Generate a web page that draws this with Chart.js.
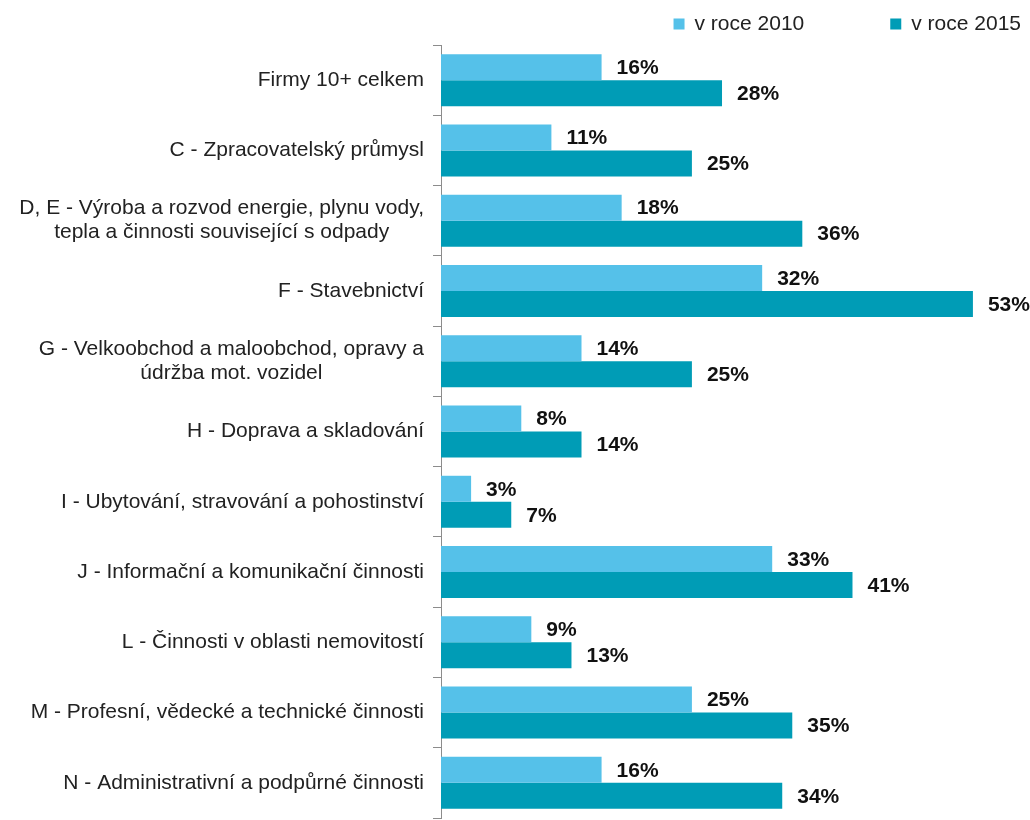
<!DOCTYPE html>
<html>
<head>
<meta charset="utf-8">
<script src="https://cdn.jsdelivr.net/npm/chart.js@4"></script>
<style>
    html, body { margin: 0; padding: 0; background: #fff; }
    #wrap { width: 1030px; height: 820px; }
</style>
</head>
<body>
<div id="wrap"><canvas id="chart1" width="1030" height="820"></canvas></div>
<script>
var categories = [
    ["Firmy 10+ celkem"],
    ["C - Zpracovatelský průmysl"],
    ["D, E - Výroba a rozvod energie, plynu vody,", "tepla a činnosti související s odpady"],
    ["F - Stavebnictví"],
    ["G - Velkoobchod a maloobchod, opravy a", "údržba mot. vozidel"],
    ["H - Doprava a skladování"],
    ["I - Ubytování, stravování a pohostinství"],
    ["J - Informační a komunikační činnosti"],
    ["L - Činnosti v oblasti nemovitostí"],
    ["M - Profesní, vědecké a technické činnosti"],
    ["N - Administrativní a podpůrné činnosti"]
];
var values2010 = [16, 11, 18, 32, 14, 8, 3, 33, 9, 25, 16];
var values2015 = [28, 25, 36, 53, 25, 14, 7, 41, 13, 35, 34];
var seriesNames = ["v roce 2010", "v roce 2015"];

var FONT = "'Liberation Sans', Arial, sans-serif";

// category labels: block right aligned, lines centered inside the block
var categoryLabels = {
    id: 'categoryLabels',
    afterDraw: function (chart) {
        var ctx = chart.ctx;
        var yScale = chart.scales.y;
        var right = chart.chartArea.left - 17;
        var lineHeight = 24;
        ctx.save();
        ctx.font = "21px " + FONT;
        ctx.fillStyle = "#222";
        ctx.textAlign = "center";
        ctx.textBaseline = "middle";
        categories.forEach(function (lines, i) {
            var y = yScale.getPixelForTick(i);
            var widest = 0;
            lines.forEach(function (l) {
                widest = Math.max(widest, ctx.measureText(l).width);
            });
            var cx = right - widest / 2;
            var y0 = y - (lines.length - 1) * lineHeight / 2;
            lines.forEach(function (l, k) {
                ctx.fillText(l, cx, y0 + k * lineHeight);
            });
        });
        ctx.restore();
    }
};

var valueLabels = {
    id: 'valueLabels',
    afterDatasetsDraw: function (chart) {
        var ctx = chart.ctx;
        ctx.save();
        ctx.font = "bold 21px " + FONT;
        ctx.fillStyle = "#111";
        ctx.textAlign = "left";
        ctx.textBaseline = "middle";
        chart.data.datasets.forEach(function (ds, d) {
            chart.getDatasetMeta(d).data.forEach(function (bar, i) {
                ctx.fillText(ds.data[i] + '%', bar.x + 15, bar.y + 1);
            });
        });
        ctx.restore();
    }
};

var topLegend = {
    id: 'topLegend',
    afterDraw: function (chart) {
        var ctx = chart.ctx;
        var box = 11, textGap = 10, itemGap = 86;
        var y = 24;
        ctx.save();
        ctx.font = "21px " + FONT;
        ctx.textBaseline = "middle";
        ctx.textAlign = "left";
        var widths = chart.data.datasets.map(function (ds) {
            return box + textGap + ctx.measureText(ds.label).width;
        });
        var total = widths.reduce(function (a, b) { return a + b; }, 0) + itemGap * (widths.length - 1);
        var x = 1021 - total;
        chart.data.datasets.forEach(function (ds, i) {
            ctx.fillStyle = ds.backgroundColor;
            ctx.fillRect(x, y - box / 2, box, box);
            ctx.fillStyle = "#222";
            ctx.fillText(ds.label, x + box + textGap, y);
            x += widths[i] + itemGap;
        });
        ctx.restore();
    }
};

var ctx = document.getElementById("chart1").getContext("2d");
var myChart = new Chart(ctx, {
    type: 'bar',
    data: {
        labels: categories.map(function (c) { return c.join(' '); }),
        datasets: [
            {
                label: seriesNames[0],
                data: values2010,
                backgroundColor: "#55c1e9",
                categoryPercentage: 0.74,
                barPercentage: 1.0
            },
            {
                label: seriesNames[1],
                data: values2015,
                backgroundColor: "#009cb6",
                categoryPercentage: 0.74,
                barPercentage: 1.0
            }
        ]
    },
    options: {
        indexAxis: 'y',
        responsive: false,
        animation: false,
        devicePixelRatio: 1,
        layout: {
            padding: { top: 45, bottom: 2, left: 0, right: 37 }
        },
        plugins: {
            legend: { display: false },
            tooltip: { enabled: false }
        },
        scales: {
            x: {
                display: false,
                min: 0,
                max: 55
            },
            y: {
                afterFit: function (scale) {
                    scale.width = 441;
                },
                ticks: { display: false },
                grid: {
                    display: true,
                    drawOnChartArea: false,
                    drawTicks: true,
                    tickLength: 8,
                    color: "#8c8c8c",
                    offset: true
                },
                border: { display: true, color: "#8c8c8c", width: 1 }
            }
        }
    },
    plugins: [categoryLabels, valueLabels, topLegend]
});
</script>
</body>
</html>
